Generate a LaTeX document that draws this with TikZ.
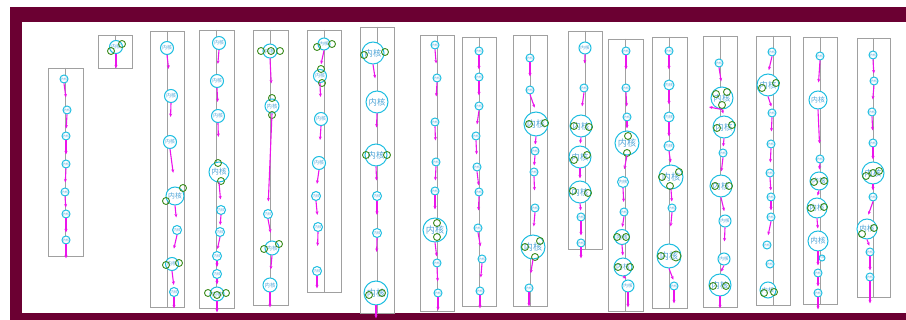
\documentclass[tikz,border=0pt]{standalone}
\usepackage{fontspec}
\newfontfamily\cjk{Noto Sans CJK SC}
\usetikzlibrary{arrows.meta,calc}
\definecolor{maroon}{RGB}{107,0,50}
\definecolor{boxg}{RGB}{160,160,160}
\definecolor{cyc}{RGB}{30,190,225}
\definecolor{txc}{RGB}{80,165,215}
\definecolor{mag}{RGB}{235,20,235}
\definecolor{grn}{RGB}{60,140,30}
\tikzset{
 colbox/.style={draw=boxg, line width=0.8pt, rectangle, inner sep=0pt},
 cline/.style={draw=boxg, line width=0.8pt},
 ci/.style={circle, draw=cyc, line width=1pt, fill=white, inner sep=0pt, minimum size=#1pt, text=txc, font={\cjk\pgfmathsetmacro\fsz{0.38*#1}\fontsize{\fsz pt}{\fsz pt}\selectfont}},
 ci/.default=8,
 gc/.style={circle, draw=grn, line width=0.9pt, inner sep=0pt, minimum size=7pt},
 arr/.style={draw=mag, line width=1.1pt, -{Stealth[length=3.5pt,width=3pt]}},
}
\newcommand\lk[3][14]{\draw[arr] let \p1=(#2.south), \p2=(#3.north), \n1={max(1,min(#1,veclen(\x2-\x1,\y2-\y1)-2))} in (\p1) -- ($(\p1)!\n1!(\p2)$);}
\newcommand\lke[3][0]{\draw[arr] (#2.south) -- ($(#2.south |- #3.south)+(0,#1)$);}
\begin{document}
\begin{tikzpicture}[x=1pt,y=-1pt]
\useasboundingbox (0,0) rectangle (906,320);
% frame
\fill[maroon] (10,7) rectangle (906,22);
\fill[maroon] (10,7) rectangle (22,320);
\fill[maroon] (10,313) rectangle (906,320);
% column boxes
\node[colbox,minimum width=35pt,minimum height=188pt] (col1) at (65.5,162) {};
\node[colbox,minimum width=34pt,minimum height=33pt] (col2) at (115,51.5) {};
\node[colbox,minimum width=34pt,minimum height=276pt] (col3) at (167,169) {};
\node[colbox,minimum width=35pt,minimum height=278pt] (col4) at (216.5,169) {};
\node[colbox,minimum width=35pt,minimum height=275pt] (col5) at (270.5,167.5) {};
\node[colbox,minimum width=34pt,minimum height=262pt] (col6) at (324,161) {};
\node[colbox,minimum width=34pt,minimum height=286pt] (col7) at (377,170) {};
\node[colbox,minimum width=34pt,minimum height=276pt] (col8) at (437,173) {};
\node[colbox,minimum width=34pt,minimum height=269pt] (col9) at (479,171.5) {};
\node[colbox,minimum width=34pt,minimum height=271pt] (col10) at (530,170.5) {};
\node[colbox,minimum width=34pt,minimum height=218pt] (col11) at (585,140) {};
\node[colbox,minimum width=35pt,minimum height=272pt] (col12) at (625.5,175) {};
\node[colbox,minimum width=35pt,minimum height=271pt] (col13) at (669.5,172.5) {};
\node[colbox,minimum width=34pt,minimum height=271pt] (col14) at (720,171.5) {};
\node[colbox,minimum width=34pt,minimum height=269pt] (col15) at (773,170.5) {};
\node[colbox,minimum width=34pt,minimum height=267pt] (col16) at (820,170.5) {};
\node[colbox,minimum width=33pt,minimum height=259pt] (col17) at (873.5,167.5) {};
\foreach \c in {1,...,17} {\draw[cline] (col\c.north) -- (col\c.south);}
% column 1
\node[ci=8] (c1a) at (64,79) {内核};
\node[ci=8] (c1b) at (67,110) {内核};
\node[ci=8] (c1c) at (66,136) {内核};
\node[ci=8] (c1d) at (66,164) {内核};
\node[ci=8] (c1e) at (65,192) {内核};
\node[ci=8] (c1f) at (66,214) {内核};
\node[ci=8] (c1g) at (66,240) {内核};
% column 2
\node[ci=13] (c2a) at (116,47) {内核};
\node[gc] (g2a) at (122,44) {};
\node[gc] (g2b) at (111,51) {};
% column 3
\node[ci=13] (c3a) at (167,48) {内核};
\node[ci=13] (c3b) at (171,96) {内核};
\node[ci=13] (c3c) at (170,142) {内核};
\node[ci=18] (c3d) at (175,196) {内核};
\node[ci=9] (c3e) at (177,230) {内核};
\node[ci=13] (c3f) at (172,264) {内核};
\node[ci=9] (c3g) at (174,292) {内核};
\node[gc] (g3a) at (183,188) {};
\node[gc] (g3b) at (166,201) {};
\node[gc] (g3c) at (166,265) {};
\node[gc] (g3d) at (179,263) {};
% column 4
\node[ci=13] (c4a) at (219,43) {内核};
\node[ci=13] (c4b) at (217,81) {内核};
\node[ci=13] (c4c) at (218,116) {内核};
\node[ci=20] (c4d) at (219,172) {内核};
\node[ci=9] (c4e) at (221,210) {内核};
\node[ci=9] (c4f) at (220,232) {内核};
\node[ci=9] (c4g) at (217,256) {内核};
\node[ci=9] (c4h) at (217,274) {内核};
\node[ci=14] (c4i) at (217,294) {内核};
\node[gc] (g4a) at (218,163) {};
\node[gc] (g4b) at (221,181) {};
\node[gc] (g4c) at (208,293) {};
\node[gc] (g4d) at (217,295) {};
\node[gc] (g4e) at (226,293) {};
% column 5
\node[ci=14] (c5a) at (270,51) {内核};
\node[ci=14] (c5b) at (272,106) {内核};
\node[ci=9] (c5c) at (268,214) {内核};
\node[ci=14] (c5d) at (272,248) {内核};
\node[ci=14] (c5e) at (270,285) {内核};
\node[gc] (g5a) at (261,51) {};
\node[gc] (g5b) at (271,51) {};
\node[gc] (g5c) at (280,51) {};
\node[gc] (g5d) at (272,98) {};
\node[gc] (g5e) at (272,115) {};
\node[gc] (g5f) at (264,249) {};
\node[gc] (g5g) at (279,244) {};
% column 6
\node[ci=12] (c6a) at (324,44) {内核};
\node[ci=13] (c6b) at (320,76) {内核};
\node[ci=13] (c6c) at (321,119) {内核};
\node[ci=13] (c6d) at (319,163) {内核};
\node[ci=9] (c6e) at (316,196) {内核};
\node[ci=9] (c6f) at (318,227) {内核};
\node[ci=9] (c6g) at (317,271) {内核};
\node[gc] (g6a) at (317,47) {};
\node[gc] (g6b) at (332,44) {};
\node[gc] (g6c) at (321,69) {};
\node[gc] (g6d) at (322,83) {};
% column 7
\node[ci=22] (c7a) at (373,53) {内核};
\node[ci=22] (c7b) at (377,102) {内核};
\node[ci=22] (c7c) at (376,155) {内核};
\node[ci=9] (c7d) at (377,196) {内核};
\node[ci=9] (c7e) at (377,233) {内核};
\node[ci=24] (c7f) at (376,293) {内核};
\node[gc] (g7a) at (364,55) {};
\node[gc] (g7b) at (385,52) {};
\node[gc] (g7c) at (366,155) {};
\node[gc] (g7d) at (387,155) {};
\node[gc] (g7e) at (369,295) {};
\node[gc] (g7f) at (382,293) {};
% column 8
\node[ci=8] (c8a) at (435,45) {内核};
\node[ci=8] (c8b) at (437,78) {内核};
\node[ci=8] (c8c) at (435,122) {内核};
\node[ci=8] (c8d) at (436,162) {内核};
\node[ci=8] (c8e) at (435,191) {内核};
\node[ci=24] (c8f) at (435,230) {内核};
\node[ci=8] (c8g) at (437,263) {内核};
\node[ci=8] (c8h) at (438,293) {内核};
\node[gc] (g8a) at (437,223) {};
\node[gc] (g8b) at (437,237) {};
% column 9
\node[ci=8] (c9a) at (479,51) {内核};
\node[ci=8] (c9b) at (479,77) {内核};
\node[ci=8] (c9c) at (479,106) {内核};
\node[ci=8] (c9d) at (476,136) {内核};
\node[ci=8] (c9e) at (477,167) {内核};
\node[ci=8] (c9f) at (479,192) {内核};
\node[ci=8] (c9g) at (478,228) {内核};
\node[ci=8] (c9h) at (482,259) {内核};
\node[ci=8] (c9i) at (480,291) {内核};
% column 10
\node[ci=8] (c10a) at (530,58) {内核};
\node[ci=8] (c10b) at (530,90) {内核};
\node[ci=24] (c10c) at (536,124) {内核};
\node[ci=8] (c10d) at (535,151) {内核};
\node[ci=8] (c10e) at (534,172) {内核};
\node[ci=8] (c10f) at (535,208) {内核};
\node[ci=24] (c10g) at (533,247) {内核};
\node[ci=8] (c10h) at (529,288) {内核};
\node[gc] (g10a) at (529,124) {};
\node[gc] (g10b) at (545,123) {};
\node[gc] (g10c) at (525,247) {};
\node[gc] (g10d) at (540,241) {};
\node[gc] (g10e) at (535,257) {};
% column 11
\node[ci=12] (c11a) at (585,48) {内核};
\node[ci=8] (c11b) at (584,88) {内核};
\node[ci=22] (c11c) at (581,126) {内核};
\node[ci=22] (c11d) at (580,157) {内核};
\node[ci=22] (c11e) at (580,192) {内核};
\node[ci=8] (c11f) at (581,217) {内核};
\node[ci=8] (c11g) at (581,243) {内核};
\node[gc] (g11a) at (574,126) {};
\node[gc] (g11b) at (589,127) {};
\node[gc] (g11c) at (574,160) {};
\node[gc] (g11d) at (587,155) {};
\node[gc] (g11e) at (573,191) {};
\node[gc] (g11f) at (588,193) {};
% column 12
\node[ci=8] (c12a) at (626,51) {内核};
\node[ci=8] (c12b) at (626,88) {内核};
\node[ci=8] (c12c) at (627,117) {内核};
\node[ci=24] (c12d) at (627,143) {内核};
\node[ci=11] (c12e) at (623,182) {内核};
\node[ci=8] (c12f) at (624,212) {内核};
\node[ci=15] (c12g) at (622,237) {内核};
\node[ci=18] (c12h) at (623,267) {内核};
\node[ci=12] (c12i) at (628,286) {内核};
\node[gc] (g12a) at (628,136) {};
\node[gc] (g12b) at (627,153) {};
\node[gc] (g12c) at (617,237) {};
\node[gc] (g12d) at (626,237) {};
\node[gc] (g12e) at (618,267) {};
\node[gc] (g12f) at (630,267) {};
% column 13
\node[ci=8] (c13a) at (669,51) {内核};
\node[ci=10] (c13b) at (669,85) {内核};
\node[ci=10] (c13c) at (669,117) {内核};
\node[ci=10] (c13d) at (669,146) {内核};
\node[ci=24] (c13e) at (671,177) {内核};
\node[ci=8] (c13f) at (672,208) {内核};
\node[ci=24] (c13g) at (669,256) {内核};
\node[ci=8] (c13h) at (674,286) {内核};
\node[gc] (g13a) at (662,177) {};
\node[gc] (g13b) at (679,172) {};
\node[gc] (g13c) at (670,186) {};
\node[gc] (g13d) at (661,256) {};
\node[gc,minimum size=10pt] (g13e) at (676,256) {};
% column 14
\node[ci=8] (c14a) at (719,63) {内核};
\node[ci=22] (c14b) at (722,98) {内核};
\node[ci=22] (c14c) at (724,127) {内核};
\node[ci=8] (c14d) at (723,153) {内核};
\node[ci=22] (c14e) at (721,186) {内核};
\node[ci=12] (c14f) at (725,221) {内核};
\node[ci=12] (c14g) at (724,259) {内核};
\node[ci=22] (c14h) at (720,285) {内核};
\node[gc] (g14a) at (716,94) {};
\node[gc] (g14b) at (727,92) {};
\node[gc] (g14c) at (722,105) {};
\node[gc] (g14d) at (717,128) {};
\node[gc] (g14e) at (732,125) {};
\node[gc] (g14f) at (715,186) {};
\node[gc] (g14g) at (729,186) {};
\node[gc] (g14h) at (713,286) {};
\node[gc] (g14i) at (726,286) {};
\coordinate (c14x) at (709,107);
% column 15
\node[ci=8] (c15a) at (772,52) {内核};
\node[ci=22] (c15b) at (768,85) {内核};
\node[ci=8] (c15c) at (772,113) {内核};
\node[ci=8] (c15d) at (771,144) {内核};
\node[ci=8] (c15e) at (770,173) {内核};
\node[ci=8] (c15f) at (771,197) {内核};
\node[ci=8] (c15g) at (771,217) {内核};
\node[ci=8] (c15h) at (767,245) {内核};
\node[ci=8] (c15i) at (770,264) {内核};
\node[ci=16] (c15j) at (768,290) {内核};
\node[gc] (g15a) at (762,88) {};
\node[gc] (g15b) at (776,83) {};
\node[gc] (g15c) at (764,293) {};
\node[gc] (g15d) at (774,292) {};
% column 16
\node[ci=8] (c16a) at (820,56) {内核};
\node[ci=18] (c16b) at (818,100) {内核};
\node[ci=8] (c16c) at (820,159) {内核};
\node[ci=18] (c16d) at (819,181) {内核};
\node[ci=20] (c16e) at (817,208) {内核};
\node[ci=20] (c16f) at (818,241) {内核};
\node[ci=6] (c16g) at (822,258) {内核};
\node[ci=8] (c16h) at (818,273) {内核};
\node[ci=8] (c16i) at (818,293) {内核};
\node[gc] (g16a) at (814,182) {};
\node[gc] (g16b) at (824,181) {};
\node[gc] (g16c) at (811,208) {};
\node[gc] (g16d) at (824,207) {};
% column 17
\node[ci=8] (c17a) at (873,55) {内核};
\node[ci=8] (c17b) at (874,81) {内核};
\node[ci=8] (c17c) at (872,112) {内核};
\node[ci=8] (c17d) at (873,143) {内核};
\node[ci=22] (c17e) at (873,173) {内核};
\node[ci=8] (c17f) at (873,197) {内核};
\node[ci=20] (c17g) at (867,229) {内核};
\node[ci=8] (c17h) at (870,252) {内核};
\node[ci=8] (c17i) at (870,277) {内核};
\node[gc] (g17a) at (866,176) {};
\node[gc] (g17b) at (873,173) {};
\node[gc] (g17c) at (879,171) {};
\node[gc] (g17d) at (862,234) {};
\node[gc] (g17e) at (874,228) {};
% arrows
\lk{c1a}{c1b}\lk{c1b}{c1c}\lk{c1c}{c1d}\lk{c1d}{c1e}\lk{c1e}{c1f}\lk{c1f}{c1g}\lke[2]{c1g}{col1}
\lke{c2a}{col2}
\lk{c3a}{c3b}\lk{c3b}{c3c}\lk[24]{c3c}{c3d}\lk[12]{c3d}{c3e}\lk{c3e}{c3f}\lk{c3f}{c3g}\lke[1]{c3g}{col3}
\lk{c4a}{c4b}\lk{c4b}{c4c}\lk{c4c}{c4d}\lk[17]{c4d}{c4e}\lk{c4e}{c4f}\lk{c4f}{c4g}\lk{c4g}{c4h}\lk{c4h}{c4i}\lke[4]{c4i}{col4}
\lk[25]{c5a}{c5b}\lk[88]{c5b}{c5c}\lk{c5c}{c5d}\lk{c5d}{c5e}\lke[2]{c5e}{col5}
\lk{c6a}{c6b}\lk{c6b}{c6c}\lk{c6c}{c6d}\lk{c6d}{c6e}\lk{c6e}{c6f}\lk{c6f}{c6g}\lke[-4]{c6g}{col6}
\lk{c7a}{c7b}\lk{c7b}{c7c}\lk{c7c}{c7d}\lk{c7d}{c7e}\lk{c7e}{c7f}\lke[5]{c7f}{col7}
\lk{c8a}{c8b}\lk{c8b}{c8c}\lk{c8c}{c8d}\lk{c8d}{c8e}\lk{c8e}{c8f}\lk{c8f}{c8g}\lk{c8g}{c8h}\lke[-1]{c8h}{col8}
\lk{c9a}{c9b}\lk{c9b}{c9c}\lk{c9c}{c9d}\lk{c9d}{c9e}\lk{c9e}{c9f}\lk{c9f}{c9g}\lk{c9g}{c9h}\lk{c9h}{c9i}\lke[2]{c9i}{col9}
\lk{c10a}{c10b}\lk{c10b}{c10c}\lk{c10c}{c10d}\lk{c10d}{c10e}\lk{c10e}{c10f}\lk{c10f}{c10g}\lk{c10g}{c10h}\lke{c10h}{col10}
\lk[9]{c11a}{c11b}\lk{c11b}{c11c}\lk{c11c}{c11d}\lk{c11d}{c11e}\lk{c11e}{c11f}\lk{c11f}{c11g}\lke[9]{c11g}{col11}
\lk{c12a}{c12b}\lk{c12b}{c12c}\lk{c12c}{c12d}\lk{c12d}{c12e}\lk{c12e}{c12f}\lk{c12f}{c12g}\lk{c12g}{c12h}\lk{c12h}{c12i}\lke[-4]{c12i}{col12}
\lk{c13a}{c13b}\lk{c13b}{c13c}\lk{c13c}{c13d}\lk{c13d}{c13e}\lk{c13e}{c13f}\lk{c13f}{c13g}\lk{c13g}{c13h}\lke[-5]{c13h}{col13}
\lk{c14a}{c14b}\lk{c14b}{c14c}\draw[arr] (c14b.south) -- (c14x);\lk{c14c}{c14d}\lk{c14d}{c14e}\lk{c14e}{c14f}\lk{c14f}{c14g}\lk{c14g}{c14h}\lke[1]{c14h}{col14}
\lk{c15a}{c15b}\lk{c15b}{c15c}\lk{c15c}{c15d}\lk{c15d}{c15e}\lk{c15e}{c15f}\lk{c15f}{c15g}\lk{c15g}{c15h}
\lk[22]{c16a}{c16b}\lk[34]{c16b}{c16c}\lk{c16c}{c16d}\lk{c16d}{c16e}\lk{c16e}{c16f}\lk{c16f}{c16h}\lk{c16h}{c16i}\lke[5]{c16i}{col16}
\lk{c17a}{c17b}\lk{c17b}{c17c}\lk{c17c}{c17d}\lk{c17d}{c17e}\lk{c17e}{c17f}\lk{c17f}{c17g}\lk{c17g}{c17h}\lk{c17h}{c17i}\lke[6]{c17i}{col17}
\end{tikzpicture}
\end{document}
